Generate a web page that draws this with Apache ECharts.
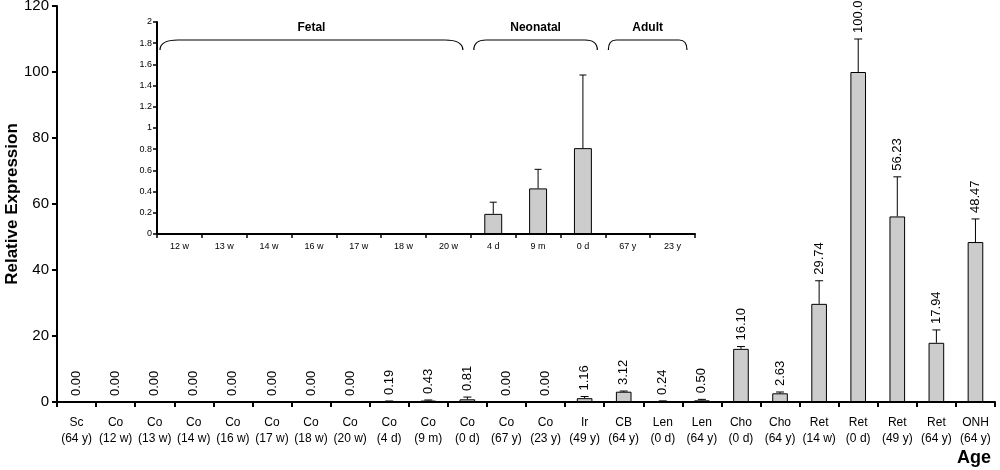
<!DOCTYPE html>
<html>
<head>
<meta charset="utf-8">
<script src="https://cdn.jsdelivr.net/npm/echarts@6/dist/echarts.min.js"></script>
<style>html,body{margin:0;padding:0;background:#fff}#c{width:1000px;height:470px}</style>
</head>
<body>
<div id="c"></div>
<script>
const tissues = ['Sc','Co','Co','Co','Co','Co','Co','Co','Co','Co','Co','Co','Co','Ir','CB','Len','Len','Cho','Cho','Ret','Ret','Ret','Ret','ONH'];
const ages = ['64 y','12 w','13 w','14 w','16 w','17 w','18 w','20 w','4 d','9 m','0 d','67 y','23 y','49 y','64 y','0 d','64 y','0 d','64 y','14 w','0 d','49 y','64 y','64 y'];
const values = [0,0,0,0,0,0,0,0,0.19,0.43,0.81,0,0,1.16,3.12,0.24,0.50,16.10,2.63,29.74,100.00,56.23,17.94,48.47];
const errors = [0,0,0,0,0,0,0,0,0.11,0.18,0.69,0,0,0.5,0.2,0.1,0.3,0.7,0.4,7.0,10.0,12.0,3.9,7.0];
const yTicks = {min:0, max:120, interval:20};
const insetTicks = {min:0, max:2, interval:0.2};
// inset shows the Co (cornea) series: indices 1..12
const insetStart = 1, insetEnd = 13;
const insetAges = ages.slice(insetStart, insetEnd);
const insetValues = values.slice(insetStart, insetEnd);
const insetErrors = errors.slice(insetStart, insetEnd);
const groupNames = ['Fetal','Neonatal','Adult'];
const groupRanges = [[0,6],[7,9],[10,11]];

const FONT = 'Arial, "Liberation Sans", Helvetica, sans-serif';
const categories = tissues.map((t,i)=>t+'\n('+ages[i]+')');

function errItem(withLabel, capW){
  return function(params, api){
    const i = api.value(0), v = api.value(1), e = api.value(2);
    const base = api.coord([i, v]);
    const top = api.coord([i, v+e]);
    const children = [];
    if (e > 0){
      children.push({type:'line', shape:{x1:base[0],y1:base[1],x2:top[0],y2:top[1]}, style:{stroke:'#000',lineWidth:1}});
      children.push({type:'line', shape:{x1:top[0]-capW/2,y1:top[1],x2:top[0]+capW/2,y2:top[1]}, style:{stroke:'#000',lineWidth:1}});
    }
    if (withLabel){
      children.push({type:'text', x: top[0], y: top[1]-6, rotation: Math.PI/2,
        style:{text: v.toFixed(2), x:0, y:0, align:'left', verticalAlign:'middle', textAlign:'left', textVerticalAlign:'middle',
          fill:'#000', font:'13px '+FONT}});
    }
    return {type:'group', children};
  };
}

const chart = echarts.init(document.getElementById('c'), null, {renderer:'canvas'});
const axisLine = {show:true, lineStyle:{color:'#000', width:2}};
chart.setOption({
  animation:false,
  backgroundColor:'#fff',
  textStyle:{fontFamily:FONT},
  title:{text:'Age', right:4, top:444, textStyle:{fontSize:18, fontWeight:'bold', color:'#000', fontFamily:FONT}},
  grid:[
    {left:57, top:6, right:5, height:396, containLabel:false, outerBoundsMode:'none'},
    {left:157, top:22, width:538, height:212, containLabel:false, outerBoundsMode:'none'}
  ],
  xAxis:[
    {type:'category', gridIndex:0, data:categories, axisLine,
     axisTick:{show:true, length:5, lineStyle:{color:'#000', width:2}},
     axisLabel:{interval:0, fontSize:12, lineHeight:16, color:'#000', margin:13, fontFamily:FONT}},
    {type:'category', gridIndex:1, data:insetAges, axisLine,
     axisTick:{show:true, length:4, lineStyle:{color:'#000', width:1.5}},
     axisLabel:{interval:0, fontSize:9, color:'#000', margin:8, fontFamily:FONT}}
  ],
  yAxis:[
    {type:'value', gridIndex:0, min:yTicks.min, max:yTicks.max, interval:yTicks.interval, axisLine,
     axisTick:{show:true, length:5, lineStyle:{color:'#000', width:2}}, splitLine:{show:false},
     axisLabel:{fontSize:15, color:'#000', margin:8, fontFamily:FONT},
     name:'Relative Expression', nameLocation:'middle', nameGap:45, nameMoveOverlap:false,
     nameTextStyle:{fontSize:17, fontWeight:'bold', color:'#000', fontFamily:FONT, verticalAlign:'middle'}},
    {type:'value', gridIndex:1, min:insetTicks.min, max:insetTicks.max, interval:insetTicks.interval, axisLine,
     axisTick:{show:true, length:4, lineStyle:{color:'#000', width:1.5}}, splitLine:{show:false},
     axisLabel:{fontSize:9, color:'#000', margin:5, fontFamily:FONT}}
  ],
  series:[
    {type:'bar', xAxisIndex:0, yAxisIndex:0, data:values, barWidth:'40%',
     itemStyle:{color:'#cccccc', borderColor:'#000', borderWidth:1}},
    {type:'custom', xAxisIndex:0, yAxisIndex:0, renderItem:errItem(true, 8),
     data: values.map((v,i)=>[i, v, errors[i]]), z:5},
    {type:'bar', xAxisIndex:1, yAxisIndex:1, data:insetValues, barWidth:'40%',
     itemStyle:{color:'#cccccc', borderColor:'#000', borderWidth:1}},
    {type:'custom', xAxisIndex:1, yAxisIndex:1, renderItem:errItem(false, 7),
     data: insetValues.map((v,i)=>[i, v, insetErrors[i]]), z:5}
  ]
});

// brackets above inset groups, positioned from the inset category scale
const c0 = chart.convertToPixel({xAxisIndex:1}, 0);
const c1 = chart.convertToPixel({xAxisIndex:1}, 1);
const band = c1 - c0;
const yTopLine = 40, yBottom = 50, yText = 28;
const graphics = [];
const bstyle = {fill:null, stroke:'#000', lineWidth:1.2};
groupRanges.forEach((r, gi)=>{
  const x1 = chart.convertToPixel({xAxisIndex:1}, r[0]) - band/2 + 3;
  const x2 = chart.convertToPixel({xAxisIndex:1}, r[1]) + band/2 - 8;
  const rx = Math.min(18, (x2-x1)*0.1);
  graphics.push({type:'bezierCurve', shape:{x1:x1, y1:yBottom, cpx1:x1, cpy1:yTopLine, x2:x1+rx, y2:yTopLine}, style:bstyle});
  graphics.push({type:'line', shape:{x1:x1+rx, y1:yTopLine, x2:x2-rx, y2:yTopLine}, style:bstyle});
  graphics.push({type:'bezierCurve', shape:{x1:x2-rx, y1:yTopLine, cpx1:x2, cpy1:yTopLine, x2:x2, y2:yBottom}, style:bstyle});
  graphics.push({type:'text', x:(x1+x2)/2, y:yText, style:{text:groupNames[gi], align:'center', verticalAlign:'middle',
    textAlign:'center', textVerticalAlign:'middle', fill:'#000', font:'bold 12px '+FONT}});
});
chart.setOption({graphic:graphics});
</script>
</body>
</html>
